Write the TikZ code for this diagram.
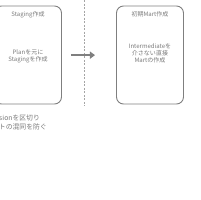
\documentclass[tikz,border=0pt]{standalone}
\usepackage{fontspec}
\setmainfont{Noto Sans CJK JP}
\usetikzlibrary{arrows.meta,positioning}
\definecolor{linegray}{HTML}{7F7F7F}
\definecolor{textgray}{HTML}{7A7A7A}

\begin{document}
\begin{tikzpicture}[
    phasebox/.style={draw=linegray, line width=0.9pt, rounded corners=7pt,
      minimum width=2.345cm, minimum height=3.43cm},
    ttl/.style={font=\fontsize{6}{7}\selectfont, text=textgray},
    body/.style={font=\fontsize{6}{7.2}\selectfont, text=textgray, align=center},
    note/.style={font=\fontsize{6.8}{8.2}\selectfont, text=textgray, anchor=east},
    arr/.style={-{Triangle[length=5pt,width=7pt]}, line width=2pt, draw=linegray},
  ]
  \useasboundingbox (0,0) rectangle (7,7);

  % Phase 1: Staging
  \node[phasebox] (staging) at (0.98,5.075) {};
  \node[ttl] (stagingttl) at ([yshift=-0.315cm]staging.north) {Staging作成};
  \node[body] (stagingbody) at ([yshift=-0.05cm]staging.center) {Planを元に\\Stagingを作成};

  % Session divider
  \coordinate (divtop) at (2.94,7);
  \coordinate (divbot) at (2.94,3.29);
  \draw[linegray!70, line width=0.5pt, dash pattern=on 2pt off 1.5pt] (divtop) -- (divbot);

  % Arrow
  \coordinate (arrstart) at (2.485,5.07);
  \coordinate (arrend) at (3.325,5.07);
  \draw[arr] (arrstart) -- (arrend);

  % Phase 2: initial Mart
  \node[phasebox] (mart) at (5.25,5.075) {};
  \node[ttl] (martttl) at ([yshift=-0.315cm]mart.north) {初期Mart作成};
  \node[body] (martbody) at ([yshift=0.05cm]mart.center) {Intermediateを\\介さない直接\\Martの作成};

  % Note
  \node[note] (sessionnote) at (1.52,2.86) {Sessionを区切り};
  \node[note] (contextnote) at (1.76,2.56) {コンテキストの混同を防ぐ};

\end{tikzpicture}
\end{document}
